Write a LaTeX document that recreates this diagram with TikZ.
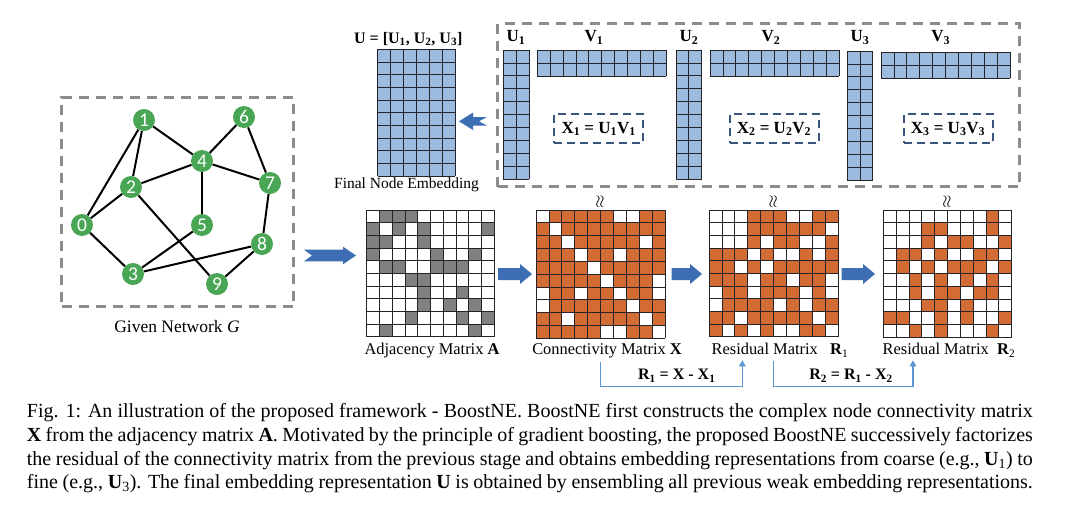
\documentclass[tikz,border=0pt]{standalone}
\usepackage{fontspec}
\setmainfont{Liberation Serif}
\newfontfamily\carlito{Carlito}
\usetikzlibrary{calc,arrows.meta}
\definecolor{nodegreen}{RGB}{72,166,84}
\definecolor{dashgray}{RGB}{140,140,140}
\definecolor{xboxblue}{RGB}{55,85,125}
\definecolor{arrowblue}{RGB}{61,110,180}
\definecolor{bracketblue}{RGB}{91,150,210}
\definecolor{cellblue}{RGB}{156,187,222}
\definecolor{cellorange}{RGB}{211,108,52}
\definecolor{cellgray}{RGB}{128,128,128}
\definecolor{gridcol}{RGB}{35,35,40}
\newcommand\cellgrid[9]{%
 \node[inner sep=0pt, outer sep=0pt, minimum width={(#3*#5)*1pt}, minimum height={(#4*#6)*1pt}, anchor=north west] (#1) at (#2) {};
 \begin{scope}[shift={(#1.north west)}]
  \fill[#7] (0,0) rectangle ({#3*#5},{#4*#6});
  \foreach \rowcells [count=\ri from 0] in {#9} {
    \foreach \cc in \rowcells {\ifnum\cc<0\relax\else\fill[#8] ({\cc*#5},{\ri*#6}) rectangle ++(#5,#6);\fi}
  }
  \foreach \k in {0,...,#3} \draw[gridline] ({\k*#5},0) -- ({\k*#5},{#4*#6});
  \foreach \k in {0,...,#4} \draw[gridline] (0,{\k*#6}) -- ({#3*#5},{\k*#6});
 \end{scope}}
\newcommand\blockarrow[7]{%
 \pgfmathsetmacro\arrdir{(#2>#1)?1:-1}%
 \pgfmathsetmacro\arrhx{#2-(\arrdir)*(#6)}%
 \pgfmathsetmacro\arrnx{#1+(\arrdir)*(#7)}%
 \fill[arrowblue] (#1,#3-#4) -- (\arrhx,#3-#4) -- (\arrhx,#3-#5) -- (#2,#3) -- (\arrhx,#3+#5) -- (\arrhx,#3+#4) -- (#1,#3+#4) -- (\arrnx,#3) -- cycle;}
\tikzset{
 gnode/.style={circle, fill=nodegreen, draw=none, minimum size=22pt, inner sep=0pt, text=white, font=\carlito\fontsize{19.5}{19.5}\selectfont},
 gedge/.style={line width=2pt, black},
 dashbox/.style={draw=dashgray, line width=3pt, dash pattern=on 10pt off 7pt, inner sep=0pt, anchor=north west},
 xbox/.style={draw=xboxblue, line width=2pt, dash pattern=on 8pt off 5pt, inner sep=0pt, minimum width=89pt, minimum height=29pt, font=\fontsize{17}{17}\selectfont\bfseries},
 lbl/.style={inner sep=0pt, font=\fontsize{16.4}{18}\selectfont},
 toplbl/.style={inner sep=0pt, anchor=base, font=\fontsize{17}{18}\selectfont\bfseries},
 bracket/.style={draw=bracketblue, line width=1.4pt},
 gridline/.style={draw=gridcol, line width=0.8pt},
 capline/.style={inner sep=0pt, anchor=base west, font=\fontsize{20}{24}\selectfont},
}
\begin{document}
\begin{tikzpicture}[x=1pt,y=-1pt]
\useasboundingbox (0,0) rectangle (1080,517);
\fill[white] (0,0) rectangle (1080,517);
% ---------------- graph
\node[dashbox, minimum width=232pt, minimum height=209pt] (gbox) at (60,96) {};
\node[gnode] (n0) at (82,225) {0};
\node[gnode] (n1) at (144,120) {1};
\node[gnode] (n2) at (131,187) {2};
\node[gnode] (n3) at (133,274) {3};
\node[gnode] (n4) at (202,161) {4};
\node[gnode] (n5) at (202,225) {5};
\node[gnode] (n6) at (244,117) {6};
\node[gnode] (n7) at (270,183) {7};
\node[gnode] (n8) at (262,244) {8};
\node[gnode] (n9) at (217,284) {9};
\foreach \a/\b in {n0/n1,n0/n2,n0/n3,n1/n2,n1/n4,n2/n4,n2/n9,n4/n6,n4/n7,n4/n5,n6/n7,n7/n8,n5/n3,n3/n8,n8/n9}
  \draw[gedge] (\a) -- (\b);
\node[lbl, anchor=base, font=\fontsize{17.5}{18}\selectfont] (glabel) at (177,332) {Given Network \textit{G}};
% ---------------- bottom matrices
\cellgrid{A}{366.7,210}{10}{10}{12.76}{12.67}{white}{cellgray}{{1,2,3},{0,2,4,9},{0,1,4},{0,5,8},{1,2,5,6,7},{3,4},{4,7},{4,6,8},{3,7,9},{1,8}}
\cellgrid{X}{536,210}{10}{10}{12.9}{12.83}{cellorange}{white}{{0,6,7},{1},{2,8},{3,6},{4},{5,9},{0,3,6,9},{0,7},{2,8},{5,6,9}}
\cellgrid{R1}{709,210}{10}{10}{12.93}{12.67}{cellorange}{white}{{0,1,2,6,7},{0,1,2,9},{0,1,2,4,7,8},{3,5,6,8},{2,4},{3,6,9},{0,3,7,9},{0,5,7},{2,8},{1,3,5,6,9}}
\cellgrid{R2}{883.3,210}{10}{10}{12.84}{12.7}{white}{cellorange}{{8},{3,4,8},{3,5,6,9},{1,2,4,7,8},{1,3,5,6,7,9},{2,4,6,8},{2,4,5,7,8},{3,4,6},{0,1,4,6,9},{2,4,8}}
\node[lbl, anchor=base] (labA) at (432,354.5) {Adjacency Matrix \textbf{A}};
\node[lbl, anchor=base] (labX) at (607,354.5) {Connectivity Matrix \textbf{X}};
\node[lbl, anchor=base] (labR1) at (780,354.5) {Residual Matrix\hspace{0.75em}\textbf{R}\textsubscript{1}};
\node[lbl, anchor=base] (labR2) at (949,354.5) {Residual Matrix\hspace{0.5em}\textbf{R}\textsubscript{2}};
\foreach \m in {X,R1,R2}
  \node[inner sep=0pt, font=\fontsize{17}{17}\selectfont] (approx\m) at ($(\m.north)+(0,-8.5)$) {\rotatebox{90}{$\approx$}};
% block arrows
\blockarrow{304}{356}{255.5}{5.8}{8.8}{13}{8}
\blockarrow{498}{532}{274}{6}{10}{12}{0}
\blockarrow{671.7}{702}{274}{6}{10}{12}{0}
\blockarrow{841.7}{875}{274}{6}{10}{12}{0}
\blockarrow{487}{459}{121.3}{4.3}{8.7}{14}{8}
% brackets
\coordinate (hline) at (0,386.7);
\coordinate (tip1) at (742.3,0);
\coordinate (tip2) at (913,0);
\draw[bracket,-{Triangle[length=6pt,width=6.5pt]}] (X.center |- labX.south) ++(0,4) -- (X.center |- hline) -- (tip1 |- hline) -- ($(tip1 |- labR1.south)+(0,3)$);
\draw[bracket,-{Triangle[length=6pt,width=6.5pt]}] (R1.center |- labR1.south) ++(0,4) -- (R1.center |- hline) -- (tip2 |- hline) -- ($(tip2 |- labR2.south)+(0,3)$);
\node[inner sep=0pt, anchor=base, font=\fontsize{16}{16}\selectfont\bfseries] (eq1) at (676.7,379.5) {R\textsubscript{1} = X - X\textsubscript{1}};
\node[inner sep=0pt, anchor=base, font=\fontsize{16}{16}\selectfont\bfseries] (eq2) at (851,379.5) {R\textsubscript{2} = R\textsubscript{1} - X\textsubscript{2}};
% ---------------- top part
\node[dashbox, minimum width=522pt, minimum height=163pt] (topbox) at (496,22) {};
\cellgrid{U}{377.7,49.3}{6}{10}{12.88}{12.67}{cellblue}{white}{-1}
\cellgrid{U1}{503.3,50}{2}{10}{13}{12.9}{cellblue}{white}{-1}
\cellgrid{V1}{537.3,50}{10}{2}{12.87}{13}{cellblue}{white}{-1}
\cellgrid{U2}{676,50}{2}{10}{12.85}{12.9}{cellblue}{white}{-1}
\cellgrid{V2}{710,50}{10}{2}{12.9}{13}{cellblue}{white}{-1}
\cellgrid{U3}{847.3,51}{2}{10}{12.7}{12.9}{cellblue}{white}{-1}
\cellgrid{V3}{881,52}{10}{2}{12.9}{13}{cellblue}{white}{-1}
\node[toplbl, font=\fontsize{16}{18}\selectfont\bfseries] (labU) at (408.3,43.3) {U = [U\textsubscript{1}, U\textsubscript{2}, U\textsubscript{3}]};
\node[lbl, anchor=base, font=\fontsize{15.5}{18}\selectfont] (labFinal) at (406.5,188.3) {Final Node Embedding};
\node[toplbl] (labU1) at (516,41.5) {U\textsubscript{1}};
\node[toplbl] (labV1) at (594,41.5) {V\textsubscript{1}};
\node[toplbl] (labU2) at (689,41.5) {U\textsubscript{2}};
\node[toplbl] (labV2) at (771,41.5) {V\textsubscript{2}};
\node[toplbl] (labU3) at (860,41.5) {U\textsubscript{3}};
\node[toplbl] (labV3) at (940.7,41.5) {V\textsubscript{3}};
\node[xbox] (x1) at (598.7,128.8) {X\textsubscript{1} = U\textsubscript{1}V\textsubscript{1}};
\node[xbox] (x2) at (774,128.8) {X\textsubscript{2} = U\textsubscript{2}V\textsubscript{2}};
\node[xbox] (x3) at (948,128.8) {X\textsubscript{3} = U\textsubscript{3}V\textsubscript{3}};
% ---------------- caption
\node[capline] (cap1) at (26.7,417) {\makebox[1006pt][s]{Fig. 1: An illustration of the proposed framework - BoostNE. BoostNE first constructs the complex node connectivity matrix}};
\node[capline] (cap2) at (26.7,441) {\makebox[1006pt][s]{\textbf{X} from the adjacency matrix \textbf{A}. Motivated by the principle of gradient boosting, the proposed BoostNE successively factorizes}};
\node[capline] (cap3) at (26.7,465) {\makebox[1006pt][s]{the residual of the connectivity matrix from the previous stage and obtains embedding representations from coarse (e.g., \textbf{U}\textsubscript{1}) to}};
\node[capline] (cap4) at (26.7,488.5) {\makebox[1006pt][s]{fine (e.g., \textbf{U}\textsubscript{3}). The final embedding representation \textbf{U} is obtained by ensembling all previous weak embedding representations.}};
\end{tikzpicture}
\end{document}
